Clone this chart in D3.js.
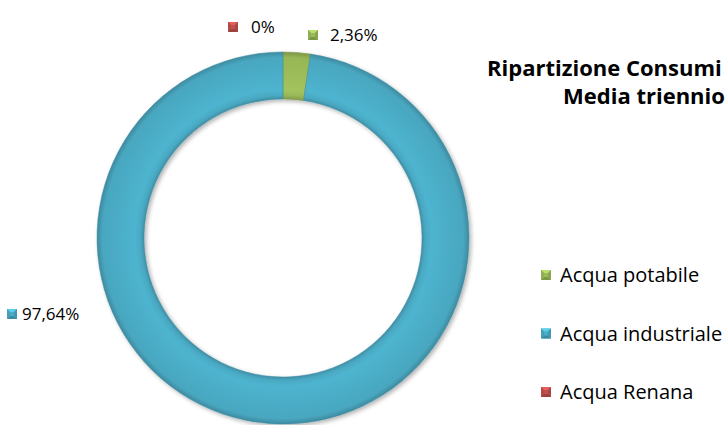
<!DOCTYPE html>
<html lang="it">
<head>
    <meta charset="UTF-8">
    <title>Ripartizione Consumi</title>
    <script src="https://cdn.jsdelivr.net/npm/d3@7"></script>
    <style>
        body{ margin:0; background:#fff; }
        svg{ display:block; font-family:"Open Sans", sans-serif; }
        .lbl{ font-size:17px; fill:#000; }
        .leg{ font-size:20px; fill:#000; }
        .title{ font-size:22px; font-weight:bold; fill:#000; }
    </style>
</head>
<body>
<script>
    var width = 728,
        height = 425;

    // dati
    var categories = ['Acqua potabile', 'Acqua industriale', 'Acqua Renana'];
    var values = [2.36, 97.64, 0];
    var labels = ['2,36%', '97,64%', '0%'];
    var colors = ['#9bbb59', '#4bacc6', '#c0504d'];
    var titleLines = ['Ripartizione Consumi idrici', 'Media triennio'];

    var cx = 283, cy = 238,
        rOut = 186, rIn = 139;

    var svg = d3.select('body').append('svg')
        .attr('width', width)
        .attr('height', height);

    var defs = svg.append('defs');

    // ombra
    var f = defs.append('filter').attr('id', 'shadow')
        .attr('x', '-10%').attr('y', '-10%').attr('width', '130%').attr('height', '130%');
    f.append('feDropShadow').attr('dx', 2).attr('dy', 2).attr('stdDeviation', 2)
        .attr('flood-color', '#000').attr('flood-opacity', 0.3);

    // smussatura (bevel) per ogni colore
    colors.forEach(function(c, i){
        var base = d3.rgb(c);
        var g = defs.append('radialGradient').attr('id', 'bev' + i)
            .attr('gradientUnits', 'userSpaceOnUse')
            .attr('cx', 0).attr('cy', 0).attr('r', rOut);
        var k = rIn / rOut;
        [[k, base.darker(0.5)], [k + 0.02, base.darker(0.05)], [k + 0.05, base.brighter(0.12)],
         [0.9, base], [0.97, base.darker(0.08)], [1, base.darker(0.6)]].forEach(function(s){
            g.append('stop').attr('offset', s[0]).attr('stop-color', s[1]);
        });
    });

    var pie = d3.pie().sort(null).value(function(d){ return d; });
    var arc = d3.arc().innerRadius(rIn).outerRadius(rOut);
    var arcs = pie(values);

    var ring = svg.append('g')
        .attr('transform', 'translate(' + cx + ',' + cy + ')')
        .attr('filter', 'url(#shadow)');

    ring.selectAll('path')
        .data(arcs)
        .enter().append('path')
        .attr('d', arc)
        .attr('fill', function(d, i){ return 'url(#bev' + i + ')'; })
        .attr('stroke', function(d, i){ return d3.rgb(colors[i]).darker(0.6); })
        .attr('stroke-width', function(d){ return d.value > 0 ? 0.5 : 0; });

    // piccolo quadrato smussato (come in Excel)
    function marker(g, x, y, c){
        var s = 10, b = 3, col = d3.rgb(c);
        var m = g.append('g').attr('transform', 'translate(' + x + ',' + y + ')');
        m.append('rect').attr('width', s).attr('height', s).attr('fill', col);
        m.append('path').attr('d', 'M0,0L' + s + ',0L' + (s - b) + ',' + b + 'L' + b + ',' + b + 'Z')
            .attr('fill', col.brighter(0.5));
        m.append('path').attr('d', 'M0,' + s + 'L' + s + ',' + s + 'L' + (s - b) + ',' + (s - b) + 'L' + b + ',' + (s - b) + 'Z')
            .attr('fill', col.darker(0.6));
        m.append('path').attr('d', 'M0,0L' + b + ',' + b + 'L' + b + ',' + (s - b) + 'L0,' + s + 'Z')
            .attr('fill', col.darker(0.2));
        m.append('path').attr('d', 'M' + s + ',0L' + (s - b) + ',' + b + 'L' + (s - b) + ',' + (s - b) + 'L' + s + ',' + s + 'Z')
            .attr('fill', col.darker(0.35));
    }

    // etichette dei dati: [x marcatore, y centro, x testo]
    var labelPos = [[308, 35, 330], [7, 314, 22], [228, 27, 251]];
    arcs.forEach(function(d, i){
        var g = svg.append('g');
        marker(g, labelPos[i][0], labelPos[i][1] - 5, colors[i]);
        g.append('text').attr('class', 'lbl')
            .attr('x', labelPos[i][2]).attr('y', labelPos[i][1])
            .attr('dy', '0.36em')
            .text(labels[i]);
    });

    // titolo (tagliato al bordo destro come nell'originale)
    svg.append('text').attr('class', 'title')
        .attr('x', 487).attr('y', 76).text(titleLines[0]);
    svg.append('text').attr('class', 'title')
        .attr('x', 563).attr('y', 104).text(titleLines[1]);

    // legenda
    var legend = svg.append('g').attr('transform', 'translate(541,0)');
    var ly = d3.scalePoint().domain(categories).range([275, 392]);
    categories.forEach(function(c, i){
        marker(legend, 0, ly(c) - 5, colors[i]);
        legend.append('text').attr('class', 'leg')
            .attr('x', 19).attr('y', ly(c)).attr('dy', '0.36em')
            .text(c);
    });
</script>
</body>
</html>
